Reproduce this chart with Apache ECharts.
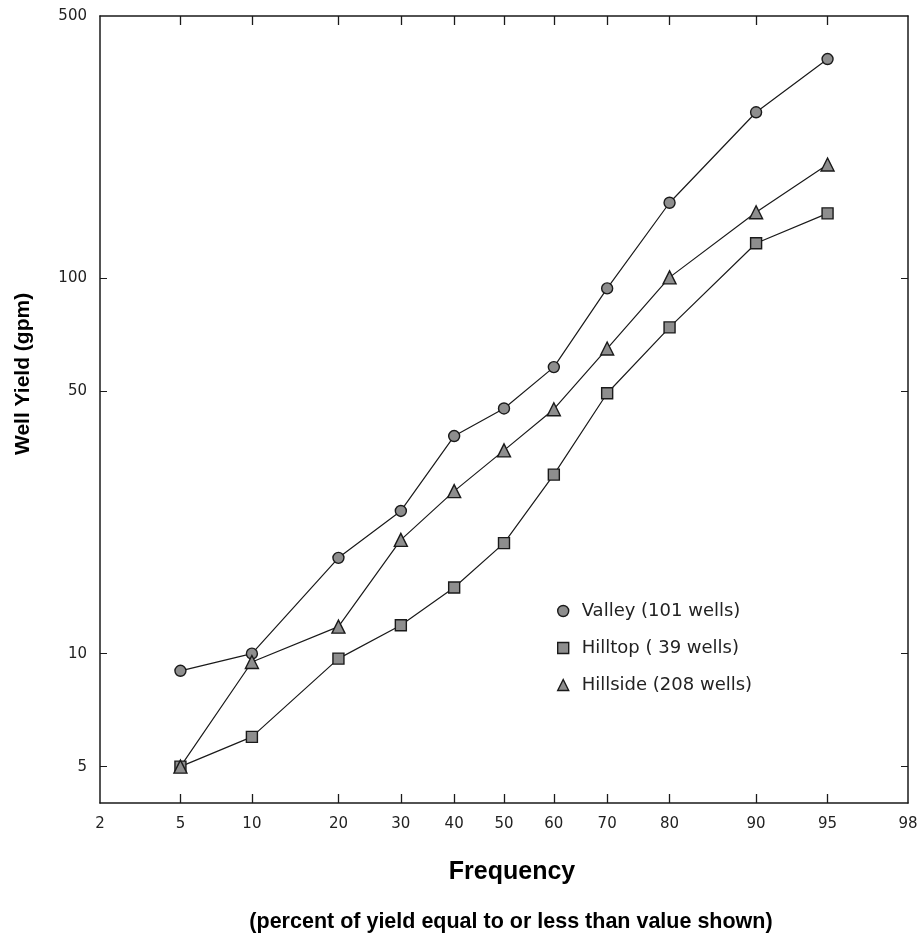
<!DOCTYPE html>
<html><head><meta charset="utf-8">
<script src="https://cdn.jsdelivr.net/npm/echarts@6/dist/echarts.min.js"></script>
<style>html,body{margin:0;padding:0;background:#fff}#c{width:922px;height:938px}</style>
</head><body><div id="c"></div>
<script>
// ---- data ----
const frequencies = [5, 10, 20, 30, 40, 50, 60, 70, 80, 90, 95];
const valley   = [9, 10, 18, 24, 38, 45, 58, 94, 159, 277, 384];
const hilltop  = [5, 6, 9.7, 11.9, 15, 19.7, 30, 49.4, 74, 124, 149];
const hillside = [5, 9.5, 11.8, 20.1, 27.1, 34.8, 44.8, 65, 100.6, 150, 201];
const xTickLabels = [2, 5, 10, 20, 30, 40, 50, 60, 70, 80, 90, 95, 98];
const yTickLabels = [5, 10, 50, 100, 500];
const seriesNames = ['Valley (101 wells)', 'Hilltop ( 39 wells)', 'Hillside (208 wells)'];

// inverse normal CDF (probability-paper scale)
function probit(p) {
  const a=[-3.969683028665376e+01,2.209460984245205e+02,-2.759285104469687e+02,1.383577518672690e+02,-3.066479806614716e+01,2.506628277459239e+00];
  const b=[-5.447609879822406e+01,1.615858368580409e+02,-1.556989798598866e+02,6.680131188771972e+01,-1.328068155288572e+01];
  const c=[-7.784894002430293e-03,-3.223964580411365e-01,-2.400758277161838e+00,-2.549732540343734e+00,4.374664141464968e+00,2.938163982698783e+00];
  const d=[7.784695709041462e-03,3.224671290700398e-01,2.445134137142996e+00,3.754408661907416e+00];
  const pl=0.02425;
  let q,r;
  if (p<pl){q=Math.sqrt(-2*Math.log(p));return (((((c[0]*q+c[1])*q+c[2])*q+c[3])*q+c[4])*q+c[5])/((((d[0]*q+d[1])*q+d[2])*q+d[3])*q+1);}
  if (p<=1-pl){q=p-0.5;r=q*q;return (((((a[0]*r+a[1])*r+a[2])*r+a[3])*r+a[4])*r+a[5])*q/(((((b[0]*r+b[1])*r+b[2])*r+b[3])*r+b[4])*r+1);}
  q=Math.sqrt(-2*Math.log(1-p));return -(((((c[0]*q+c[1])*q+c[2])*q+c[3])*q+c[4])*q+c[5])/((((d[0]*q+d[1])*q+d[2])*q+d[3])*q+1);
}
const z = f => probit(f/100);
const xTickZ = xTickLabels.map(z);
const innerTickZ = xTickLabels.slice(1, -1).map(z);
function labelFor(v){let best=0,bd=1e9;xTickZ.forEach((t,i)=>{const dd=Math.abs(t-v);if(dd<bd){bd=dd;best=i;}});return String(xTickLabels[best]);}
const pair = arr => frequencies.map((f,i)=>[z(f), arr[i]]);

const font = 'DejaVu Sans';
const markStyle = {color:'#8e8e8e', borderColor:'#1a1a1a', borderWidth:1.4};
const lineStyle = {color:'#1a1a1a', width:1.2};
function mkSeries(name, arr, symbol, size){
  return {name, type:'line', data:pair(arr), symbol, symbolSize:size, showSymbol:true,
    itemStyle:markStyle, lineStyle, emphasis:{disabled:true}, z:3};
}

const chart = echarts.init(document.getElementById('c'), null, {renderer:'canvas'});
const axLine = {show:true, onZero:false, lineStyle:{color:'#1a1a1a', width:1.5}};
chart.setOption({
  animation:false,
  backgroundColor:'#fff',
  grid:{left:100, right:14, top:16, bottom:135},
  legend:{
    orient:'vertical', left:552, top:597, itemGap:19,
    itemWidth:11, itemHeight:11,
    data:[{name:seriesNames[0], icon:'circle'},{name:seriesNames[1], icon:'rect'},{name:seriesNames[2], icon:'triangle'}],
    textStyle:{fontFamily:font, fontSize:18, color:'#222', padding:[0,0,0,8]},
    itemStyle:markStyle
  },
  xAxis:[{
    type:'value', min:z(2), max:z(98), position:'bottom',
    axisLine:axLine, splitLine:{show:false},
    axisTick:{show:true, inside:true, length:9, customValues:innerTickZ, lineStyle:{color:'#1a1a1a', width:1.3}},
    axisLabel:{customValues:xTickZ, formatter:labelFor, fontFamily:font, fontSize:15, color:'#222', margin:14}
  },{
    type:'value', min:z(2), max:z(98), position:'top',
    axisLine:axLine, splitLine:{show:false},
    axisTick:{show:true, inside:true, length:9, customValues:innerTickZ, lineStyle:{color:'#1a1a1a', width:1.3}},
    axisLabel:{show:false}
  }],
  yAxis:[{
    type:'log', logBase:10, min:4, max:500, position:'left',
    axisLine:axLine, splitLine:{show:false}, minorTick:{show:false},
    axisTick:{show:true, inside:true, length:7, customValues:yTickLabels.slice(0,4), lineStyle:{color:'#1a1a1a', width:1}},
    axisLabel:{customValues:yTickLabels, fontFamily:font, fontSize:15, color:'#222', margin:13}
  },{
    type:'log', logBase:10, min:4, max:500, position:'right',
    axisLine:axLine, splitLine:{show:false},
    axisTick:{show:true, inside:true, length:7, customValues:yTickLabels.slice(0,4), lineStyle:{color:'#1a1a1a', width:1}},
    axisLabel:{show:false}
  }],
  series:[
    mkSeries(seriesNames[0], valley, 'circle', 11),
    mkSeries(seriesNames[1], hilltop, 'rect', 11),
    mkSeries(seriesNames[2], hillside, 'triangle', 13)
  ],
  graphic:[
    {type:'text', x:13, y:455, rotation:Math.PI/2, style:{text:'Well Yield (gpm)', font:'bold 21px "Liberation Sans", Arial, sans-serif', fill:'#000', align:'left', verticalAlign:'top'}},
    {type:'text', x:512, y:872, style:{text:'Frequency', font:'bold 25px "Liberation Sans", Arial, sans-serif', fill:'#000', align:'center', verticalAlign:'middle'}},
    {type:'text', x:511, y:922, style:{text:'(percent of yield equal to or less than value shown)', font:'bold 21.5px "Liberation Sans", Arial, sans-serif', fill:'#000', align:'center', verticalAlign:'middle'}}
  ]
});
</script></body></html>
